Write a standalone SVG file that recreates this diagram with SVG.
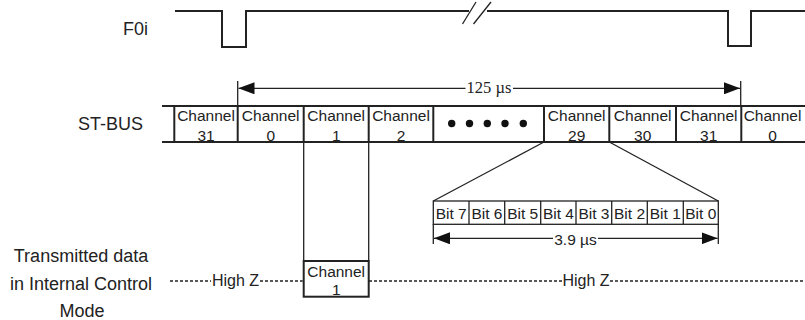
<svg xmlns="http://www.w3.org/2000/svg" width="805" height="320" viewBox="0 0 805 320">
<style>
  .lbl{font-family:"Liberation Sans",Arial,sans-serif;fill:#222;}
  .big{font-size:18px;}
  .cell{font-size:15.5px;text-anchor:middle;}
  .bit{font-size:15.5px;text-anchor:middle;}
  .thick{stroke:#222;stroke-width:2;fill:none;}
  .thin{stroke:#222;stroke-width:1.3;fill:none;}
  .dot{stroke:#222;stroke-width:1.3;stroke-dasharray:3,2;fill:none;}
</style>
<defs>
  <marker id="ah" viewBox="0 0 16 12" refX="16" refY="6" markerWidth="16" markerHeight="12" markerUnits="userSpaceOnUse" orient="auto">
    <path d="M0,0 L16,6 L0,12 Z" fill="#111"/>
  </marker>
</defs>

<g id="labels">
  <text class="lbl big" x="123" y="35">F0i</text>
  <text class="lbl big" x="78" y="130">ST-BUS</text>
  <text class="lbl big" x="81" y="262" text-anchor="middle">Transmitted data</text>
  <text class="lbl big" x="81" y="290" text-anchor="middle">in Internal Control</text>
  <text class="lbl big" x="82" y="317" text-anchor="middle">Mode</text>
</g>

<g id="f0i-wave">
  <path class="thick" d="M175,11 H222 V47 H246 V11 H469"/>
  <path class="thick" d="M487,11 H728 V46 H751 V11 H805"/>
  <line class="thin" x1="462.5" y1="24" x2="476" y2="2"/>
  <line class="thin" x1="473.5" y1="24" x2="491" y2="2"/>
</g>

<g id="connectors">
  <!-- 125 us dimension -->
  <line class="thin" x1="237.7" y1="81" x2="237.7" y2="106"/>
  <line class="thin" x1="740.7" y1="81" x2="740.7" y2="106"/>
  <line class="thin" x1="465.5" y1="88.3" x2="238.5" y2="88.3" marker-end="url(#ah)"/>
  <line class="thin" x1="513" y1="88.3" x2="740" y2="88.3" marker-end="url(#ah)"/>
  <!-- expansion of channel 29 -->
  <line class="thin" x1="544" y1="142" x2="433.3" y2="201"/>
  <line class="thin" x1="609.3" y1="142" x2="718.3" y2="201"/>
  <!-- channel 1 drop lines -->
  <line class="thin" x1="303.7" y1="142" x2="303.7" y2="261"/>
  <line class="thin" x1="368.7" y1="142" x2="368.7" y2="261"/>
  <!-- 3.9 us dimension -->
  <line class="thin" x1="433.3" y1="224" x2="433.3" y2="244"/>
  <line class="thin" x1="718.3" y1="224" x2="718.3" y2="244"/>
  <line class="thin" x1="553" y1="238.3" x2="434" y2="238.3" marker-end="url(#ah)"/>
  <line class="thin" x1="598" y1="238.3" x2="717.6" y2="238.3" marker-end="url(#ah)"/>
  <!-- High Z dotted lines -->
  <line class="dot" x1="170" y1="281" x2="211" y2="281"/>
  <line class="dot" x1="260" y1="281" x2="302.7" y2="281"/>
  <line class="dot" x1="369" y1="281" x2="562" y2="281"/>
  <line class="dot" x1="610" y1="281" x2="805" y2="281"/>
</g>
<g id="dim-labels">
  <text x="489" y="93.3" font-family="'Liberation Serif','Times New Roman',serif" font-size="16.5" fill="#222" text-anchor="middle">125 µs</text>
  <text class="lbl" x="575.5" y="245" font-size="15.5" text-anchor="middle">3.9 µs</text>
  <text class="lbl" x="235.5" y="286" font-size="16" text-anchor="middle">High Z</text>
  <text class="lbl" x="586" y="286" font-size="16" text-anchor="middle">High Z</text>
</g>

<g id="st-bus">
  <line class="thick" x1="162" y1="106" x2="805" y2="106"/>
  <line class="thick" x1="162" y1="142" x2="805" y2="142"/>
  <g class="thick">
    <line x1="174.3" y1="106" x2="174.3" y2="142"/>
    <line x1="237.7" y1="106" x2="237.7" y2="142"/>
    <line x1="303.7" y1="106" x2="303.7" y2="142"/>
    <line x1="368.7" y1="106" x2="368.7" y2="142"/>
    <line x1="433.3" y1="106" x2="433.3" y2="142"/>
    <line x1="544" y1="106" x2="544" y2="142"/>
    <line x1="609.3" y1="106" x2="609.3" y2="142"/>
    <line x1="676" y1="106" x2="676" y2="142"/>
    <line x1="741.3" y1="106" x2="741.3" y2="142"/>
  </g>
  <g id="ch31a"><text class="lbl cell" x="206" y="121">Channel</text><text class="lbl cell" x="206" y="141">31</text></g>
  <g id="ch0a"><text class="lbl cell" x="270.7" y="121">Channel</text><text class="lbl cell" x="270.7" y="141">0</text></g>
  <g id="ch1"><text class="lbl cell" x="336.2" y="121">Channel</text><text class="lbl cell" x="336.2" y="141">1</text></g>
  <g id="ch2"><text class="lbl cell" x="401" y="121">Channel</text><text class="lbl cell" x="401" y="141">2</text></g>
  <g id="dots" fill="#111">
    <circle cx="451.7" cy="123.5" r="3.7"/><circle cx="469.5" cy="123.5" r="3.7"/><circle cx="487.3" cy="123.5" r="3.7"/><circle cx="505" cy="123.5" r="3.7"/><circle cx="523.3" cy="123.5" r="3.7"/>
  </g>
  <g id="ch29"><text class="lbl cell" x="576.7" y="121">Channel</text><text class="lbl cell" x="576.7" y="141">29</text></g>
  <g id="ch30"><text class="lbl cell" x="642.7" y="121">Channel</text><text class="lbl cell" x="642.7" y="141">30</text></g>
  <g id="ch31b"><text class="lbl cell" x="708.7" y="121">Channel</text><text class="lbl cell" x="708.7" y="141">31</text></g>
  <g id="ch0b"><text class="lbl cell" x="772.5" y="121">Channel</text><text class="lbl cell" x="772.5" y="141">0</text></g>
</g>

<g id="bits">
  <rect class="thin" x="433.3" y="201" width="285" height="23.3"/>
  <g class="thin">
    <line x1="469" y1="201" x2="469" y2="224.3"/>
    <line x1="504.7" y1="201" x2="504.7" y2="224.3"/>
    <line x1="540.7" y1="201" x2="540.7" y2="224.3"/>
    <line x1="576" y1="201" x2="576" y2="224.3"/>
    <line x1="611.7" y1="201" x2="611.7" y2="224.3"/>
    <line x1="647.3" y1="201" x2="647.3" y2="224.3"/>
    <line x1="683.3" y1="201" x2="683.3" y2="224.3"/>
  </g>
  <text class="lbl bit" x="451.2" y="218.5">Bit 7</text>
  <text class="lbl bit" x="486.9" y="218.5">Bit 6</text>
  <text class="lbl bit" x="522.7" y="218.5">Bit 5</text>
  <text class="lbl bit" x="558.4" y="218.5">Bit 4</text>
  <text class="lbl bit" x="593.9" y="218.5">Bit 3</text>
  <text class="lbl bit" x="629.5" y="218.5">Bit 2</text>
  <text class="lbl bit" x="665.3" y="218.5">Bit 1</text>
  <text class="lbl bit" x="700.8" y="218.5">Bit 0</text>
</g>

<g id="tx-channel1">
  <rect class="thick" x="303.7" y="261" width="65" height="35.7"/>
  <text class="lbl cell" x="336.2" y="277">Channel</text>
  <text class="lbl cell" x="336.2" y="295">1</text>
</g>
</svg>
